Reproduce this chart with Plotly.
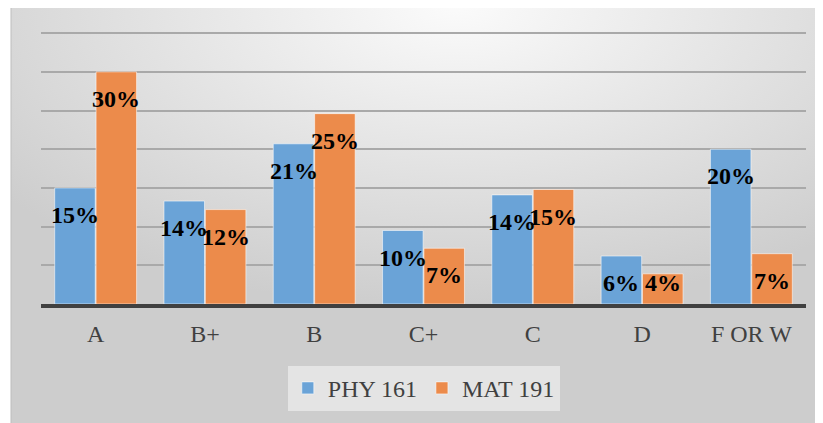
import base64
import plotly.graph_objects as go

categories = ["A", "B+", "B", "C+", "C", "D", "F OR W"]
phy_values = [15.0, 13.3, 20.7, 9.5, 14.1, 6.2, 20.0]
mat_values = [30.0, 12.2, 24.6, 7.2, 14.8, 3.9, 6.5]
phy_labels = ["15%", "14%", "21%", "10%", "14%", "6%", "20%"]
mat_labels = ["30%", "12%", "25%", "7%", "15%", "4%", "7%"]
series_names = ["PHY 161", "MAT 191"]

OFF = 8  # page body margin
W, H = 823 - OFF, 423 - OFF
YMAX = 35
YTOP = 35.15
PL, PR, PB = 41 - OFF, 806 - OFF, 304 - OFF
px_per_unit = (PB - (33.5 - OFF)) / YMAX
PT = PB - YTOP * px_per_unit

blue = "#6aa3d7"
orange = "#ec8b4b"
edge = "rgba(255,255,255,0.55)"
serif = "Times New Roman"

fig = go.Figure()
fig.add_trace(go.Bar(x=categories, y=phy_values, name=series_names[0],
                     marker=dict(color=blue, line=dict(color=edge, width=1))))
fig.add_trace(go.Bar(x=categories, y=mat_values, name=series_names[1],
                     marker=dict(color=orange, line=dict(color=edge, width=1))))

cat_w = (PR - PL) / len(categories)
bargap = 0.243
bar_w = cat_w * (1 - bargap) / 2
off = 27 / px_per_unit
floor_y = (PB - (283 - OFF)) / px_per_unit
annotations = []
for vals, labs, sgn in ((phy_values, phy_labels, -1), (mat_values, mat_labels, 1)):
    for c, v, t in zip(categories, vals, labs):
        annotations.append(dict(x=c, y=max(v - off, floor_y), text="<b>" + t + "</b>",
                                showarrow=False, xref="x", yref="y",
                                xanchor="center", yanchor="middle",
                                xshift=sgn * bar_w / 2,
                                font=dict(family=serif, size=24, color="#000000")))

svg = ('<svg xmlns="http://www.w3.org/2000/svg" width="810" height="420" viewBox="0 0 810 420" '
       'preserveAspectRatio="none"><defs><radialGradient id="g" cx="0.55" cy="0.0" r="0.72" '
       'gradientUnits="objectBoundingBox"><stop offset="0" stop-color="#fbfbfb"/>'
       '<stop offset="1" stop-color="#cdcdcd"/></radialGradient></defs>'
       '<rect x="0" y="0" width="810" height="420" fill="url(#g)"/></svg>')
src = "data:image/svg+xml;base64," + base64.b64encode(svg.encode()).decode()


def xp(px):
    return (px - OFF - PL) / (PR - PL)


def yp(py):
    return (PB - (py - OFF)) / (PB - PT)


bx0, bx1, by0, by1 = 11, 821, 5, 428
fig.add_layout_image(dict(source=src, xref="paper", yref="paper", x=xp(bx0), y=yp(by0),
                          sizex=xp(bx1) - xp(bx0), sizey=yp(by0) - yp(by1),
                          xanchor="left", yanchor="top", sizing="stretch", layer="below"))

shapes = [dict(type="rect", xref="paper", yref="paper", x0=xp(bx0), x1=xp(bx1),
               y0=yp(by1), y1=yp(by0), line=dict(color="#bdbdbd", width=1),
               fillcolor="rgba(0,0,0,0)", layer="below")]

fig.update_layout(
    width=W, height=H,
    margin=dict(l=PL, r=W - PR, t=PT, b=H - PB, pad=0, autoexpand=False),
    paper_bgcolor="#ffffff",
    plot_bgcolor="rgba(0,0,0,0)",
    barmode="group", bargap=bargap, bargroupgap=0.02,
    annotations=annotations,
    shapes=shapes,
    showlegend=True,
    legend=dict(orientation="h", x=xp(423.8), xanchor="center", y=yp(365.7), yanchor="top",
                bgcolor="rgba(243,243,243,0.6)", font=dict(family=serif, size=24, color="#404040"),
                itemwidth=30, traceorder="normal"),
    font=dict(family=serif, color="#404040"),
)
fig.update_xaxes(showline=True, linecolor="#404040", linewidth=4, ticks="",
                 ticklabelstandoff=5,
                 tickfont=dict(family=serif, size=24, color="#404040"), showgrid=False)
fig.update_yaxes(range=[0, YTOP], tickvals=[5, 10, 15, 20, 25, 30, 35], showticklabels=False,
                 showgrid=True, gridcolor="#a9a9a9", gridwidth=1.5, zeroline=False,
                 showline=False, ticks="")

fig.write_html("out.html")
